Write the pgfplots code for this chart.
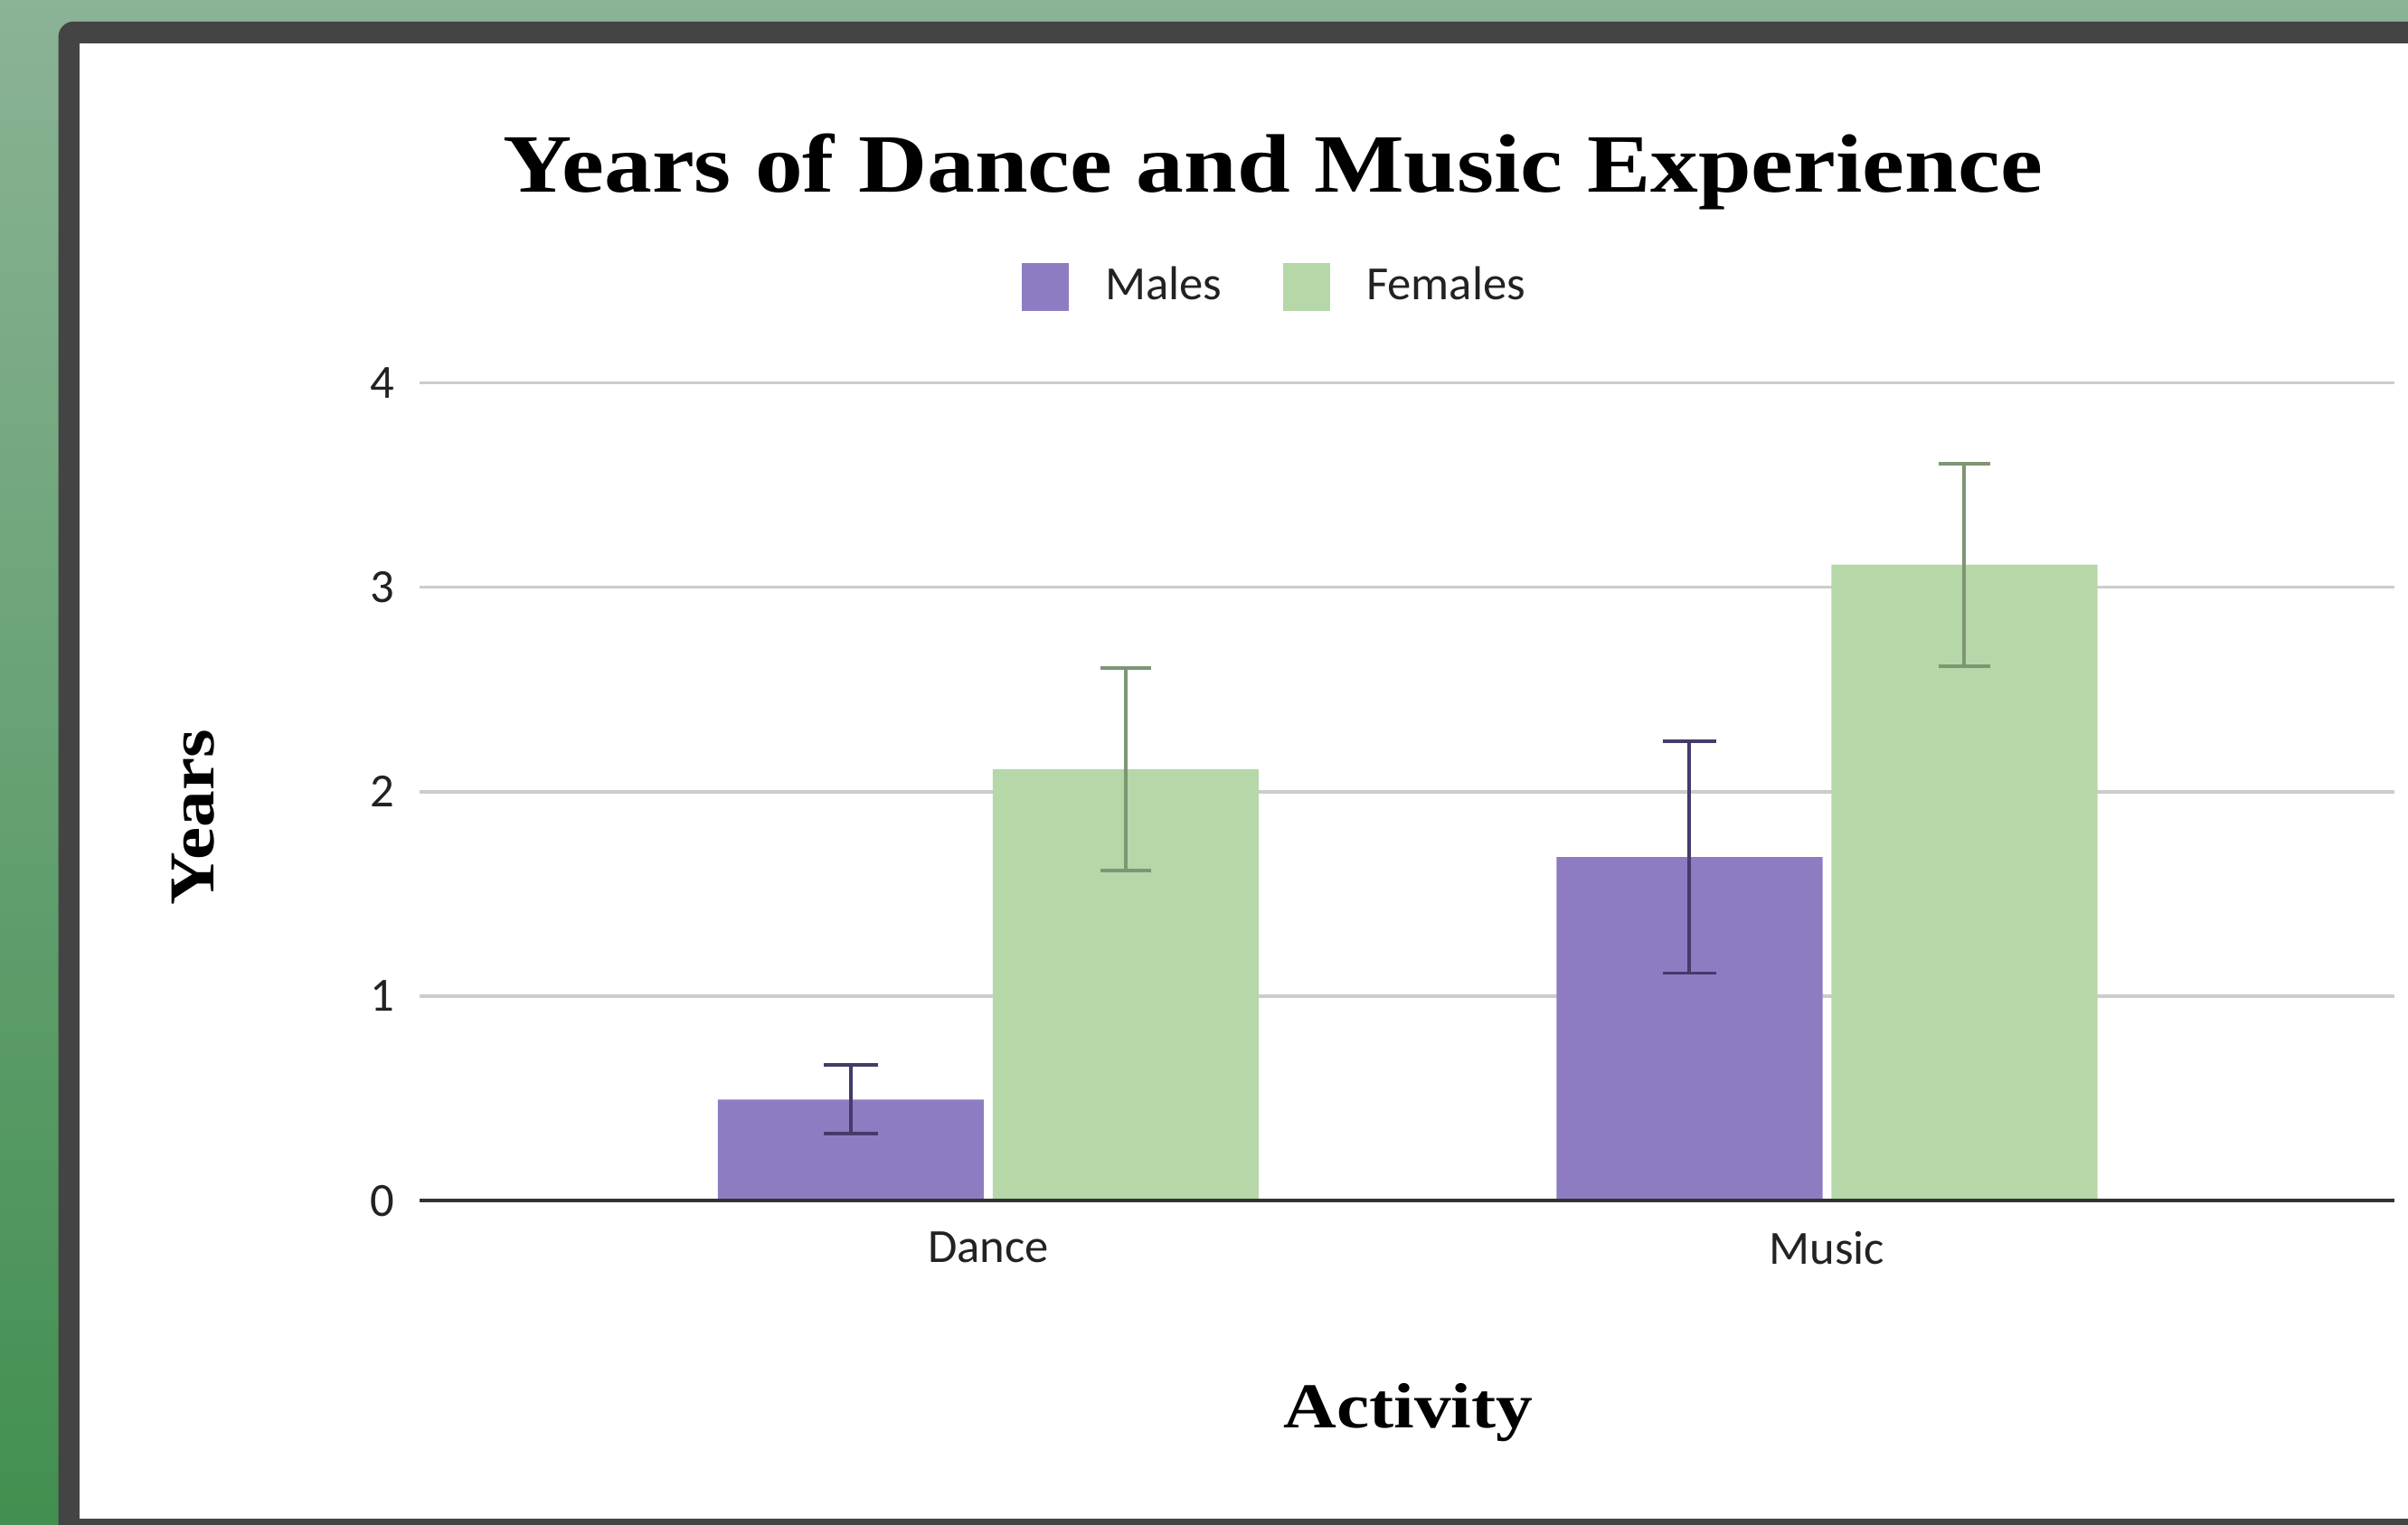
\documentclass[border=0pt]{standalone}
\usepackage{pgfplots}
\pgfplotsset{compat=1.18}
\usepackage{fontspec}
\setmainfont{Carlito}
\newfontfamily\titlefont[FakeStretch=1.15]{Liberation Serif}
\definecolor{malec}{HTML}{8E7CC3}
\definecolor{femalec}{HTML}{B6D7A8}
\definecolor{maleerr}{HTML}{463A6B}
\definecolor{femaleerr}{HTML}{7D9674}
\definecolor{framec}{HTML}{444444}
\definecolor{bgtop}{HTML}{8BB396}
\definecolor{bgbot}{HTML}{428F50}
\definecolor{gridc}{HTML}{CCCCCC}
\definecolor{txt}{HTML}{222222}
\definecolor{axisc}{HTML}{333333}
\begin{document}
\begin{tikzpicture}
\begin{scope}[x=0.3pt,y=0.3pt]
\useasboundingbox (0,0) rectangle (1568,993.3);
\shade[top color=bgtop, bottom color=bgbot] (0,0) rectangle (1568,993.3);
\fill[framec, rounded corners=3pt] (38,-20) rectangle (1600,979.3);
\fill[white] (52,3.9) rectangle (1600,965.3);
\end{scope}
\begin{axis}[
  at={(82.02pt,63.36pt)}, anchor=south west,
  scale only axis, width=385.7pt, height=159.84pt,
  xmin=-0.6777, xmax=1.6764, ymin=0, ymax=4,
  ybar, bar width=51.96pt,
  xtick={0,1}, xticklabels={Dance,Music},
  ytick={0,1,2,3,4},
  major tick length=0pt,
  axis line style={draw=none},
  ymajorgrids, grid style={gridc, line width=0.6pt},
  tick label style={font=\fontsize{9.3}{11}\selectfont, text=txt},
  xticklabel style={yshift=-2.5pt},
  yticklabel style={xshift=-1.5pt},
  /pgf/number format/assume math mode=true,
  legend style={at={(0.4350,1.117)}, anchor=center, draw=none, fill=none,
    legend columns=2, font=\fontsize{9.3}{11}\selectfont, text=txt,
    /tikz/every even column/.append style={column sep=9.9pt},
    /tikz/every odd column/.append style={column sep=5.1pt}},
  legend image code/.code={\fill[#1] (0pt,-4.6pt) rectangle (9.2pt,4.6pt);},
  clip=false,
]
\addplot[fill=malec, draw=none, bar shift=-26.85pt,
  error bars/.cd, y dir=both, y explicit,
  error bar style={maleerr, line width=0.7pt},
  error mark options={rotate=90, mark size=5.25pt, line width=0.7pt, maleerr}]
  coordinates {(0,0.495) +- (0,0.168) (1,1.68) +- (0,0.567)};
\addlegendentry{Males}
\addplot[fill=femalec, draw=none, bar shift=26.85pt,
  error bars/.cd, y dir=both, y explicit,
  error bar style={femaleerr, line width=0.7pt},
  error mark options={rotate=90, mark size=5pt, line width=0.7pt, femaleerr}]
  coordinates {(0,2.11) +- (0,0.494) (1,3.11) +- (0,0.495)};
\addlegendentry{Females}
\draw[axisc, line width=0.7pt] (rel axis cs:0,0) -- (rel axis cs:1,0);
\end{axis}
\node[font=\titlefont\bfseries\fontsize{16.2}{19}\selectfont, anchor=base] at (248.7pt,260.5pt) {Years of Dance and Music Experience};
\node[font=\titlefont\bfseries\fontsize{12.5}{15}\selectfont, anchor=base] at (275.1pt,18.9pt) {Activity};
\node[font=\titlefont\bfseries\fontsize{12.5}{15}\selectfont, anchor=base, rotate=90] at (41.7pt,138.3pt) {Years};
\end{tikzpicture}
\end{document}
